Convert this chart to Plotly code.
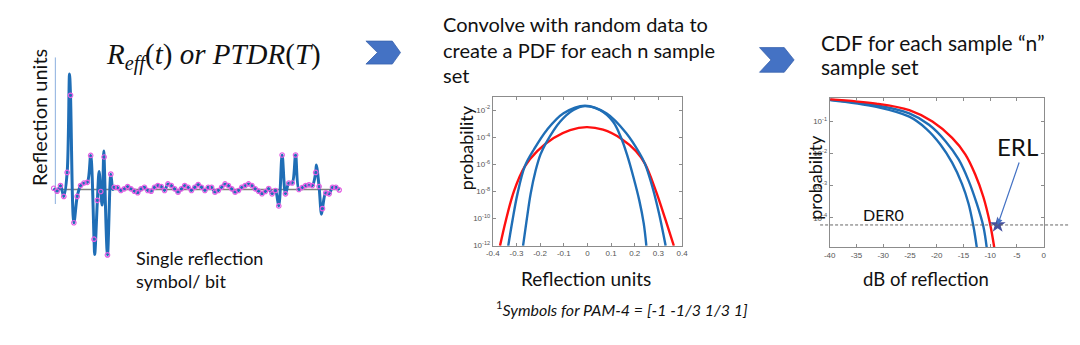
import numpy as np
import plotly.graph_objects as go

W, H = 1080, 345

# ---------------- panel 1: sampled single-reflection waveform ----------------
sample_v = [
    0.013, -0.017, 0.04, -0.07, 0.173, 0.956, -0.337, -0.07, 0.04, 0.066,
    0.073, 0.346, -0.504, -0.11, -0.02, 0.33, -0.664, 0.156, 0.023, 0.02,
    -0.01, 0.007, 0.03, 0.007, -0.017, -0.033, 0.007, 0.023, -0.01, -0.017,
    0.023, 0.04, 0.03, -0.01, 0.057, 0.04, 0.007, -0.027, 0.007, 0.04,
    0.023, -0.01, 0.023, 0.05, 0.023, -0.01, 0.023, 0.023, -0.027, -0.01,
    0.023, 0.057, 0.04, 0.007, -0.027, -0.01, 0.023, 0.04, 0.057, 0.04,
    0.007, -0.017, -0.043, -0.02, 0.01, -0.044, -0.01, -0.167, 0.35, -0.044,
    0.066, 0.066, 0.35, 0.0, 0.02, 0.04, 0.047, 0.04, 0.173, 0.03,
    -0.194, -0.034, -0.044, 0.023, 0.023, -0.004,
]
sample_t = list(range(len(sample_v)))

# extremes of the continuous response that fall between samples
peak_t = [4.7, 12.2, 13.5, 14.4, 14.9, 17.6, 78.2, 79.7]
peak_v = [1.173, -0.66, 0.183, -0.157, 0.39, 0.0, 0.25, -0.25]

# ---------------- panel 2: PDFs (log10 of probability) ----------------
pdf_red_x = [-0.3695, -0.3445, -0.3097, -0.2651, -0.2122, -0.1427, -0.0731, -0.0035,
             0.0661, 0.1427, 0.2053, 0.2429, 0.2888, 0.3306, 0.3653]
pdf_red_e = [-12.01, -10.12, -7.94, -6.17, -5.03, -4.06, -3.48, -3.26,
             -3.45, -4.11, -5.03, -5.95, -7.94, -10.12, -12.01]

pdf_wide_x = [-0.3347, -0.3166, -0.2957, -0.2651, -0.2262, -0.1705, -0.1009, -0.0104,
              0.08, 0.1635, 0.2192, 0.2429, 0.2749, 0.3027, 0.3306]
pdf_wide_e = [-12.01, -10.12, -8.18, -6.17, -4.91, -3.45, -2.24, -1.68,
              -2.24, -3.69, -5.15, -5.95, -7.69, -9.63, -12.01]

pdf_narrow_x = [-0.2721, -0.2568, -0.2401, -0.2192, -0.1983, -0.1747, -0.1148, -0.0592,
                -0.0104, 0.0522, 0.1078, 0.1427, 0.167, 0.1948, 0.2192, 0.2379, 0.2491]
pdf_narrow_e = [-12.01, -10.12, -8.18, -6.48, -5.27, -4.42, -2.85, -2.0,
                -1.71, -2.0, -2.85, -4.06, -5.27, -6.97, -8.66, -10.36, -12.01]

pdf_xticks = [-0.4, -0.3, -0.2, -0.1, 0.0, 0.1, 0.2, 0.3, 0.4]
pdf_xtext = ["-0.4", "-0.3", "-0.2", "-0.1", "0", "0.1", "0.2", "0.3", "0.4"]
pdf_yexp = [-12, -10, -8, -6, -4, -2]

# ---------------- panel 3: CDFs (log10 of probability) ----------------
cdf_red_db = [-39.9, -31.27, -25.12, -20.8, -17.11, -14.65, -12.81, -11.27, -10.04, -9.24]
cdf_red_e = [-0.307, -0.439, -0.644, -1.0, -1.51, -2.02, -2.64, -3.35, -4.17, -4.92]

cdf_b1_db = [-39.9, -31.27, -25.12, -21.43, -18.35, -15.89, -14.04, -12.5, -11.27, -10.65]
cdf_b1_e = [-0.317, -0.49, -0.745, -1.1, -1.61, -2.18, -2.84, -3.56, -4.27, -4.92]

cdf_b2_db = [-39.9, -31.27, -25.12, -22.04, -19.27, -17.11, -15.27, -14.04, -13.12, -12.5]
cdf_b2_e = [-0.327, -0.54, -0.847, -1.21, -1.72, -2.28, -2.94, -3.56, -4.27, -4.92]

cdf_xticks = [-40, -35, -30, -25, -20, -15, -10, -5, 0]
cdf_yexp = [-4, -3, -2, -1]

der0 = 6e-5
erl_db = -8.6

BLUE = "#1f6eb6"
RED = "#ff1010"
MAGENTA = "#e45ce4"
FONT = "Lato"


def px(x):
    return x / W


def py(y):
    return 1 - y / H


fig = go.Figure()

# panel 1 line: samples merged with the in-between extremes
line_pts = sorted(zip(sample_t + peak_t, sample_v + peak_v))
fig.add_trace(go.Scatter(
    x=[p[0] for p in line_pts], y=[p[1] for p in line_pts],
    mode="lines", line=dict(color=BLUE, width=3, shape="spline", smoothing=0.9),
    xaxis="x", yaxis="y", hoverinfo="skip"))
fig.add_trace(go.Scatter(
    x=sample_t, y=sample_v, mode="markers",
    marker=dict(symbol="circle-open", color=MAGENTA, size=4.5, line=dict(width=1.2)),
    xaxis="x", yaxis="y", hoverinfo="skip"))

# panel 2 PDFs
for xs, es, col in [(pdf_red_x, pdf_red_e, RED), (pdf_wide_x, pdf_wide_e, BLUE),
                    (pdf_narrow_x, pdf_narrow_e, BLUE)]:
    fig.add_trace(go.Scatter(
        x=xs, y=np.power(10.0, es), mode="lines",
        line=dict(color=col, width=2.4, shape="spline", smoothing=1.0),
        xaxis="x2", yaxis="y2", hoverinfo="skip"))

# panel 3 CDFs
for xs, es, col in [(cdf_b2_db, cdf_b2_e, BLUE), (cdf_b1_db, cdf_b1_e, BLUE),
                    (cdf_red_db, cdf_red_e, RED)]:
    fig.add_trace(go.Scatter(
        x=xs, y=np.power(10.0, es), mode="lines",
        line=dict(color=col, width=2.4, shape="spline", smoothing=1.0),
        xaxis="x3", yaxis="y3", hoverinfo="skip"))

fig.add_trace(go.Scatter(
    x=[erl_db], y=[der0], mode="markers",
    marker=dict(symbol="star", size=12, color="#45509e", line=dict(width=0)),
    xaxis="x3", yaxis="y3", hoverinfo="skip", cliponaxis=False))

tickfont = dict(family="Liberation Sans", size=8, color="#555555")
frame = dict(showline=True, linecolor="#8c8c8c", linewidth=1, mirror="ticks",
             ticks="inside", ticklen=3, tickcolor="#8c8c8c", showgrid=False,
             zeroline=False, tickfont=tickfont)

fig.update_layout(
    width=W, height=H, margin=dict(l=0, r=0, t=0, b=0),
    paper_bgcolor="white", plot_bgcolor="white", showlegend=False,
    xaxis=dict(domain=[px(44), px(339)], range=[-0.97, 85.8], visible=False),
    yaxis=dict(domain=[py(265), py(58)], range=[-0.727, 1.343], visible=False),
    xaxis2=dict(domain=[px(491.7), px(683.3)], range=[-0.4, 0.4], anchor="y2",
                tickvals=pdf_xticks, ticktext=pdf_xtext, **frame),
    yaxis2=dict(domain=[py(249.3), py(98.3)], type="log", range=[-12, -1.03], anchor="x2",
                tickvals=[10.0 ** e for e in pdf_yexp],
                ticktext=[f"10<sup>{e}</sup>" for e in pdf_yexp], **frame),
    xaxis3=dict(domain=[px(832.7), px(1049.3)], range=[-40, 0], anchor="y3",
                tickvals=cdf_xticks, ticktext=[str(v) for v in cdf_xticks], **frame),
    yaxis3=dict(domain=[py(251), py(99.3)], type="log", range=[-4.92, -0.26], anchor="x3",
                tickvals=[10.0 ** e for e in cdf_yexp],
                ticktext=[f"10<sup>{e}</sup>" for e in cdf_yexp], **frame),
)

shapes = []
# panel 1 axes: vertical axis and zero baseline
shapes.append(dict(type="line", xref="x", yref="y", x0=0.5, x1=0.5, y0=-0.147, y1=1.343,
                   line=dict(color="#9dbbe3", width=1.2), layer="below"))
shapes.append(dict(type="line", xref="x", yref="y", x0=-0.2, x1=85.3, y0=0, y1=0,
                   line=dict(color="#808080", width=1.5), layer="below"))
# DER0 threshold line
shapes.append(dict(type="line", xref="paper", yref="y3", x0=px(823), x1=px(1075),
                   y0=der0, y1=der0, line=dict(color="#666666", width=1, dash="3px,2px")))


def chevron(x0, y0, x1, y1, notch, tip_w):
    ym = (y0 + y1) / 2
    pts = [(x0, y0), (x1 - tip_w, y0), (x1, ym), (x1 - tip_w, y1), (x0, y1), (x0 + notch, ym)]
    d = "M " + " L ".join(f"{px(a):.5f},{py(b):.5f}" for a, b in pts) + " Z"
    return dict(type="path", xref="paper", yref="paper", path=d,
                fillcolor="#4472c4", line=dict(color="#3a63ad", width=0.8))


shapes.append(chevron(363.3, 41.7, 398.3, 65, 11.7, 8.3))
shapes.append(chevron(761.7, 48.3, 796.7, 73.3, 11.6, 10))
fig.update_layout(shapes=shapes)


def label(text, x, y, size, angle=0, xanchor="center", family=FONT, color="#111111"):
    return dict(text=text, x=px(x), y=py(y), xref="paper", yref="paper",
                xanchor=xanchor, yanchor="middle", showarrow=False, textangle=angle,
                font=dict(family=family, size=size, color=color))


ann = [
    label("<i>R</i><sub><i>eff</i></sub>(<i>t</i>) <i>or PTDR</i>(<i>T</i>)", 209, 57, 29,
          family="Liberation Serif"),
    label("Reflection units", 33, 119, 20, angle=-90),
    label("Single reflection", 129, 262, 18, xanchor="left"),
    label("symbol/ bit", 129, 285, 18, xanchor="left"),
    label("Convolve with random data to", 439, 24, 20, xanchor="left"),
    label("create a PDF for each n sample", 439, 50.5, 20, xanchor="left"),
    label("set", 439, 76.5, 20, xanchor="left"),
    label("CDF for each sample \u201cn\u201d", 822, 43, 21, xanchor="left"),
    label("sample set", 822, 67, 21, xanchor="left"),
    label("probability", 464, 150, 18, angle=-90),
    label("Reflection units", 586, 283, 19),
    label("<sup>1</sup><i>Symbols for PAM-4 = [-1 -1/3 1/3 1]</i>", 493, 313, 16, xanchor="left"),
    label("probability", 818.3, 180, 18, angle=-90),
    label("dB of reflection", 930, 283, 18.5),
    label("DER0", 887, 218, 16),
    label("ERL", 1023, 149, 24),
    dict(x=erl_db, y=np.log10(der0), xref="x3", yref="y3", text="", showarrow=True,
         ax=22, ay=-64, arrowhead=2, arrowsize=1, arrowwidth=1.2, arrowcolor="#4472c4"),
]
fig.update_layout(annotations=ann)

fig.write_html("out.html")
